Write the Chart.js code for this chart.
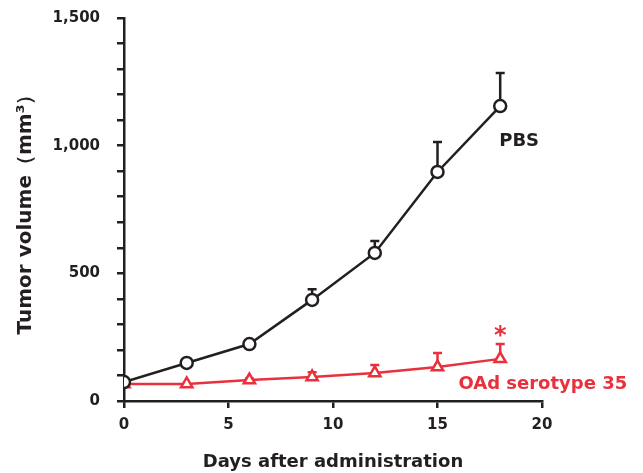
<!DOCTYPE html>
<html>
<head>
<meta charset="utf-8">
<script src="https://cdn.jsdelivr.net/npm/chart.js@4.4.0/dist/chart.umd.min.js"></script>
<style>
html,body{margin:0;padding:0;background:#fff;}
#wrap{width:643px;height:473px;}
</style>
</head>
<body>
<div id="wrap"><canvas id="c" width="643" height="473"></canvas></div>
<script>
const days = [0, 3, 6, 9, 12, 15, 18];
const pbsMean = [74, 149, 223, 396, 580, 897, 1155];
const pbsErr = [0, 0, 0, 42, 47, 117, 130];
const oadMean = [67, 67, 82, 94, 110, 133, 165];
const oadErr = [0, 0, 6, 19, 31, 55, 58];
const xTicks = [0, 5, 10, 15, 20];
const yTickLabels = [0, 500, 1000, 1500];

const BLACK = '#231f20';
const RED = '#e8313c';
const FONT = "'DejaVu Sans', Verdana, sans-serif";

function pts(xs, ys){ return xs.map((x,i)=>({x:x, y:ys[i]})); }

const errorBars = {
  id:'errorBars',
  beforeDatasetsDraw(chart){
    const {ctx, scales:{x, y}} = chart;
    chart.data.datasets.forEach(ds=>{
      ctx.save();
      ctx.strokeStyle = ds.borderColor;
      ctx.lineWidth = 2.5;
      ds.data.forEach((p,i)=>{
        const e = ds.errors[i];
        if(!e) return;
        const px = x.getPixelForValue(p.x);
        const py = y.getPixelForValue(p.y);
        const pt = y.getPixelForValue(p.y + e);
        ctx.beginPath();
        ctx.moveTo(px, py); ctx.lineTo(px, pt);
        ctx.moveTo(px-4.5, pt); ctx.lineTo(px+4.5, pt);
        ctx.stroke();
      });
      ctx.restore();
    });
  }
};

const labels = {
  id:'labels',
  afterDatasetsDraw(chart){
    const {ctx, scales:{x, y}} = chart;
    ctx.save();
    ctx.font = "bold 18px " + FONT;
    ctx.textBaseline = 'middle';
    ctx.textAlign = 'left';
    ctx.fillStyle = BLACK;
    ctx.fillText('PBS', x.getPixelForValue(18) - 1, y.getPixelForValue(1018));
    ctx.fillStyle = RED;
    ctx.fillText('OAd serotype 35', x.getPixelForValue(16), y.getPixelForValue(67));
    ctx.textAlign = 'center';
    ctx.font = "bold 24px " + FONT;
    ctx.fillText('*', x.getPixelForValue(18), y.getPixelForValue(252));
    ctx.restore();
  }
};

new Chart(document.getElementById('c'), {
  type:'scatter',
  data:{
    datasets:[
      {
        label:'PBS',
        data: pts(days, pbsMean),
        errors: pbsErr,
        showLine:true,
        borderColor:BLACK,
        backgroundColor:'#ffffff',
        borderWidth:2.5,
        pointStyle:'circle',
        pointRadius:6,
        pointBorderWidth:2.5,
        pointBackgroundColor:'#ffffff',
        pointBorderColor:BLACK
      },
      {
        label:'OAd serotype 35',
        data: pts(days, oadMean),
        errors: oadErr,
        showLine:true,
        borderColor:RED,
        backgroundColor:'#ffffff',
        borderWidth:2.5,
        pointStyle:'triangle',
        pointRadius:6.5,
        pointBorderWidth:2.5,
        pointBackgroundColor:'#ffffff',
        pointBorderColor:RED
      }
    ]
  },
  options:{
    responsive:false,
    animation:false,
    devicePixelRatio:1,
    layout:{padding:{left:0, top:18, right:101, bottom:0}},
    plugins:{legend:{display:false}, tooltip:{enabled:false}},
    scales:{
      x:{
        type:'linear', min:0, max:20,
        afterFit(s){ s.height = 72; s.paddingLeft = 0; s.paddingRight = 0; },
        afterBuildTicks(s){ s.ticks = xTicks.map(v=>({value:v})); },
        grid:{display:true, drawOnChartArea:false, drawTicks:true, tickLength:7, color:BLACK, lineWidth:2.5},
        border:{display:true, color:BLACK, width:2.5},
        ticks:{color:BLACK, font:{family:FONT, size:15, weight:'bold'}, padding:8, maxRotation:0},
        title:{display:true, text:'Days after administration', color:BLACK, font:{family:FONT, size:18, weight:'bold'}, padding:{top:0, bottom:0}}
      },
      y:{
        type:'linear', min:0, max:1500,
        afterFit(s){ s.width = 124; s.paddingTop = 0; s.paddingBottom = 0; },
        ticks:{
          stepSize:100, color:BLACK, font:{family:FONT, size:15, weight:'bold'}, padding:17,
          callback(v){ return yTickLabels.includes(v) ? v.toLocaleString('en-US') : ''; }
        },
        grid:{display:true, drawOnChartArea:false, drawTicks:true, tickLength:7, color:BLACK, lineWidth:2.5},
        border:{display:true, color:BLACK, width:2.5},
        title:{display:true, text:'Tumor volume（mm³）', color:BLACK, font:{family:FONT, size:20, weight:'bold'}, padding:{top:14, bottom:0}}
      }
    }
  },
  plugins:[errorBars, labels]
});
</script>
</body>
</html>
